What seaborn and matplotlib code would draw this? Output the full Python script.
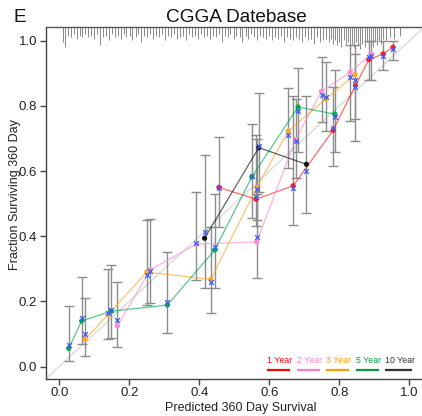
import numpy as np
import pandas as pd
import matplotlib
matplotlib.use("Agg")
import matplotlib.pyplot as plt
import seaborn as sns

# ---------------- data ----------------
series_names = ["1 Year", "2 Year", "3 Year", "5 Year", "10 Year"]
series_colors = ["#FF1A1A", "#FF88D0", "#FFA620", "#00A94F", "#111111"]
legend_colors = ["#FF0000", "#FF80C8", "#FFA000", "#00A040", "#333333"]

pred_1y = [0.456, 0.562, 0.668, 0.782, 0.846, 0.884, 0.925, 0.953]
obs_1y = [0.550, 0.514, 0.555, 0.725, 0.863, 0.942, 0.960, 0.980]
bc_1y = [0.548, 0.520, 0.549, 0.732, 0.857, 0.949, 0.952, 0.976]
lo_1y = [0.428, 0.432, 0.435, 0.615, 0.760, 0.880, 0.909, 0.942]
hi_1y = [0.704, 0.710, 0.830, 0.858, 0.960, 0.998, 0.998, 0.998]

pred_2y = [0.166, 0.260, 0.392, 0.564, 0.675, 0.749, 0.831, 0.891]
obs_2y = [0.125, 0.297, 0.376, 0.383, 0.697, 0.845, 0.904, 0.959]
bc_2y = [0.144, 0.292, 0.378, 0.397, 0.694, 0.834, 0.889, 0.952]
lo_2y = [0.060, 0.194, 0.266, 0.271, 0.580, 0.750, 0.753, 0.880]
hi_2y = [0.261, 0.453, 0.536, 0.530, 0.820, 0.949, 0.986, 0.998]

pred_3y = [0.074, 0.140, 0.250, 0.433, 0.564, 0.654, 0.762, 0.845]
obs_3y = [0.084, 0.160, 0.290, 0.268, 0.550, 0.723, 0.822, 0.896]
bc_3y = [0.099, 0.166, 0.280, 0.261, 0.545, 0.710, 0.828, 0.880]
lo_3y = [0.033, 0.084, 0.190, 0.166, 0.450, 0.609, 0.724, 0.691]
hi_3y = [0.210, 0.299, 0.450, 0.430, 0.700, 0.856, 0.935, 0.986]

pred_5y = [0.027, 0.064, 0.148, 0.309, 0.444, 0.550, 0.682, 0.787]
obs_5y = [0.056, 0.140, 0.170, 0.189, 0.358, 0.582, 0.797, 0.775]
bc_5y = [0.066, 0.148, 0.174, 0.198, 0.368, 0.586, 0.785, 0.765]
lo_5y = [0.017, 0.070, 0.089, 0.102, 0.241, 0.455, 0.660, 0.660]
hi_5y = [0.187, 0.274, 0.313, 0.351, 0.530, 0.745, 0.918, 0.909]

pred_10y = [0.415, 0.570, 0.706]
obs_10y = [0.394, 0.672, 0.621]
bc_10y = [0.412, 0.677, 0.601]
lo_10y = [0.240, 0.535, 0.472]
hi_10y = [0.648, 0.839, 0.831]

# distribution of predicted values (rug spikes hanging from the top)
rug_pos = [0.010, 0.016, 0.025, 0.034, 0.041, 0.050, 0.058, 0.066, 0.075, 0.083,
           0.092, 0.100, 0.108, 0.116, 0.124, 0.133, 0.141, 0.150, 0.158, 0.167,
           0.175, 0.184, 0.192, 0.201, 0.209, 0.218, 0.226, 0.234, 0.243, 0.251,
           0.260, 0.268, 0.277, 0.285, 0.294, 0.302, 0.311, 0.319, 0.328, 0.336,
           0.345, 0.353, 0.362, 0.370, 0.379, 0.387, 0.396, 0.404, 0.413, 0.421,
           0.430, 0.438, 0.447, 0.455, 0.464, 0.472, 0.481, 0.489, 0.498, 0.506,
           0.515, 0.523, 0.532, 0.540, 0.549, 0.557, 0.566, 0.574, 0.583, 0.591,
           0.600, 0.608, 0.617, 0.625, 0.634, 0.642, 0.651, 0.659, 0.668, 0.676,
           0.685, 0.693, 0.702, 0.710, 0.719, 0.727, 0.736, 0.744, 0.753, 0.761,
           0.770, 0.776, 0.782, 0.788, 0.794, 0.800, 0.806, 0.812, 0.818, 0.824,
           0.830, 0.836, 0.842, 0.848, 0.854, 0.860, 0.866, 0.872, 0.878, 0.884,
           0.890, 0.896, 0.902, 0.908, 0.914, 0.920, 0.926, 0.934, 0.944, 0.956, 0.974]
rug_len = [0.045, 0.060, 0.025, 0.030, 0.020, 0.035, 0.025, 0.030, 0.020, 0.030,
           0.025, 0.035, 0.020, 0.055, 0.030, 0.025, 0.040, 0.020, 0.030, 0.025,
           0.035, 0.020, 0.030, 0.025, 0.040, 0.030, 0.020, 0.045, 0.025, 0.030,
           0.020, 0.035, 0.025, 0.030, 0.020, 0.040, 0.025, 0.030, 0.020, 0.035,
           0.030, 0.025, 0.040, 0.020, 0.030, 0.025, 0.035, 0.020, 0.030, 0.025,
           0.035, 0.025, 0.030, 0.020, 0.045, 0.025, 0.030, 0.020, 0.035, 0.025,
           0.030, 0.045, 0.025, 0.035, 0.020, 0.030, 0.040, 0.025, 0.030, 0.035,
           0.025, 0.040, 0.030, 0.035, 0.025, 0.045, 0.030, 0.035, 0.040, 0.030,
           0.035, 0.045, 0.030, 0.040, 0.035, 0.050, 0.030, 0.045, 0.040, 0.035,
           0.045, 0.035, 0.050, 0.040, 0.055, 0.045, 0.060, 0.040, 0.050, 0.045,
           0.065, 0.050, 0.060, 0.045, 0.055, 0.065, 0.050, 0.060, 0.045, 0.055,
           0.050, 0.060, 0.045, 0.055, 0.040, 0.050, 0.035, 0.040, 0.030, 0.035, 0.025]

x_ticks = [0.0, 0.2, 0.4, 0.6, 0.8, 1.0]
y_ticks = [0.0, 0.2, 0.4, 0.6, 0.8, 1.0]

# ---------------- table ----------------
preds = [pred_1y, pred_2y, pred_3y, pred_5y, pred_10y]
obss = [obs_1y, obs_2y, obs_3y, obs_5y, obs_10y]
bcs = [bc_1y, bc_2y, bc_3y, bc_5y, bc_10y]
los = [lo_1y, lo_2y, lo_3y, lo_5y, lo_10y]
his = [hi_1y, hi_2y, hi_3y, hi_5y, hi_10y]
rows = []
for name, p, o, b, l, h in zip(series_names, preds, obss, bcs, los, his):
    for i in range(len(p)):
        rows.append(dict(series=name, pred=p[i], obs=o[i], bc=b[i], lo=l[i], hi=h[i], order=i))
df = pd.DataFrame(rows)

# ---------------- plot ----------------
sns.set_style("white")
plt.rcParams["font.family"] = ["Liberation Sans", "DejaVu Sans"]

fig = plt.figure(figsize=(4.22, 4.16), dpi=100)
ax = fig.add_axes([0.108, 0.089, 0.892, 0.845])

xmin, xmax = -0.039, 1.036
ymin, ymax = -0.038, 1.041

# ideal line
ax.plot([xmin, xmax], [xmin, xmax], color="#DCDCDC", lw=1.0, zorder=1)

# rug
ax.vlines(rug_pos, [ymax - v for v in rug_len], ymax, color="#777777", lw=0.6, zorder=2)

# error bars
ax.errorbar(df["pred"], df["obs"], yerr=[df["obs"] - df["lo"], df["hi"] - df["obs"]],
            fmt="none", ecolor="#8C8C8C", elinewidth=1.0, capsize=3.5, capthick=1.0, zorder=3)

pal = dict(zip(series_names, series_colors))
sns.lineplot(data=df, x="pred", y="obs", hue="series", palette=pal, sort=False,
             estimator=None, units="series", lw=0.9, alpha=0.65, legend=False, ax=ax, zorder=4)
sns.scatterplot(data=df, x="pred", y="obs", hue="series", palette=pal, s=14,
                edgecolor="none", legend=False, ax=ax, zorder=5)
sns.scatterplot(data=df, x="pred", y="bc", marker="x", color="#3B5BFF", s=12,
                linewidth=0.9, legend=False, ax=ax, zorder=6)

ax.set_xlim(xmin, xmax)
ax.set_ylim(ymin, ymax)
ax.set_xticks(x_ticks)
ax.set_yticks(y_ticks)
ax.set_xticklabels([f"{v:.1f}" for v in x_ticks])
ax.set_yticklabels([f"{v:.1f}" for v in y_ticks])
ax.tick_params(axis="both", direction="out", length=4, width=1, color="#444444",
               labelsize=9.5, labelcolor="#222222", pad=2, bottom=True, left=True)
for side in ["left", "bottom", "top"]:
    ax.spines[side].set_visible(True)
    ax.spines[side].set_color("#444444")
    ax.spines[side].set_linewidth(1.0)
ax.spines["right"].set_visible(False)
ax.spines["top"].set_color("#555555")

ax.set_xlabel("Predicted 360 Day Survival", fontsize=9, color="#222222", va="top")
ax.xaxis.set_label_coords(0.519, -0.066)
ax.set_ylabel("Fraction Surviving 360 Day", fontsize=9, color="#222222")
ax.yaxis.set_label_coords(-0.066, 0.524)

fig.text(0.56, 0.958, "CGGA Datebase", ha="center", va="center", fontsize=13.7, color="#111111")
fig.text(0.031, 0.958, "E", ha="left", va="center", fontsize=13.7, color="#111111")

# legend as underlined colored text
leg_x = [0.593, 0.678, 0.762, 0.847, 0.929]
leg_w = [0.066, 0.066, 0.066, 0.066, 0.078]
for name, c, lx, w in zip(series_names, legend_colors, leg_x, leg_w):
    ax.text(lx, 0.006, name, color=c, fontsize=6.3, ha="left", va="bottom", zorder=7)
    ax.plot([lx, lx + w], [-0.009, -0.009], color=c, lw=1.6, solid_capstyle="butt", zorder=7)

fig.savefig("out.png", dpi=100)
